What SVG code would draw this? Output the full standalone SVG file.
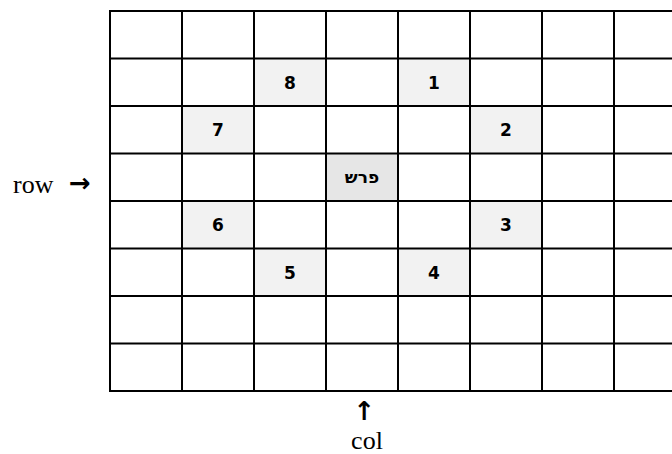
<svg xmlns="http://www.w3.org/2000/svg" width="672" height="454" viewBox="0 0 672 454">
<style>
.hl{fill:#f2f2f2}
.kn{fill:#e6e6e6}
.num{font-family:"DejaVu Sans",sans-serif;font-weight:bold;font-size:17px;text-anchor:middle;fill:#000}
.lbl{font-family:"Liberation Serif",serif;font-size:26px;fill:#000}
.arr{font-family:"DejaVu Sans",sans-serif;font-weight:bold;font-size:26px;fill:#000}
.grid line{stroke:#000;stroke-width:2}
</style>
<rect width="672" height="454" fill="#fff"/>
<g id="cells">
<g id="c8"><rect class="hl" x="254" y="58.5" width="72" height="47.5"/><text class="num" x="290" y="88.5">8</text></g>
<g id="c1"><rect class="hl" x="398" y="58.5" width="72" height="47.5"/><text class="num" x="434" y="88.5">1</text></g>
<g id="c7"><rect class="hl" x="182" y="106" width="72" height="47.5"/><text class="num" x="218" y="136">7</text></g>
<g id="c2"><rect class="hl" x="470" y="106" width="72" height="47.5"/><text class="num" x="506" y="136">2</text></g>
<g id="knight"><rect class="kn" x="326" y="153.5" width="72" height="47.5"/><text class="num" x="362" y="182.5">פרש</text></g>
<g id="c6"><rect class="hl" x="182" y="201" width="72" height="47.5"/><text class="num" x="218" y="231">6</text></g>
<g id="c3"><rect class="hl" x="470" y="201" width="72" height="47.5"/><text class="num" x="506" y="231">3</text></g>
<g id="c5"><rect class="hl" x="254" y="248.5" width="72" height="47.5"/><text class="num" x="290" y="278.5">5</text></g>
<g id="c4"><rect class="hl" x="398" y="248.5" width="72" height="47.5"/><text class="num" x="434" y="278.5">4</text></g>
</g>
<g id="connectors" class="grid">
<line x1="110" y1="11" x2="686" y2="11"/>
<line x1="110" y1="58.5" x2="686" y2="58.5"/>
<line x1="110" y1="106" x2="686" y2="106"/>
<line x1="110" y1="153.5" x2="686" y2="153.5"/>
<line x1="110" y1="201" x2="686" y2="201"/>
<line x1="110" y1="248.5" x2="686" y2="248.5"/>
<line x1="110" y1="296" x2="686" y2="296"/>
<line x1="110" y1="343.5" x2="686" y2="343.5"/>
<line x1="110" y1="391" x2="686" y2="391"/>
<line x1="110" y1="10" x2="110" y2="392"/>
<line x1="182" y1="10" x2="182" y2="392"/>
<line x1="254" y1="10" x2="254" y2="392"/>
<line x1="326" y1="10" x2="326" y2="392"/>
<line x1="398" y1="10" x2="398" y2="392"/>
<line x1="470" y1="10" x2="470" y2="392"/>
<line x1="542" y1="10" x2="542" y2="392"/>
<line x1="614" y1="10" x2="614" y2="392"/>
</g>
<g id="labels">
<text class="lbl" x="13" y="193">row</text>
<text class="arr" x="69" y="192">→</text>
<text class="arr" x="364.5" y="420" text-anchor="middle">↑</text>
<text class="lbl" x="367" y="449" text-anchor="middle">col</text>
</g>
</svg>
